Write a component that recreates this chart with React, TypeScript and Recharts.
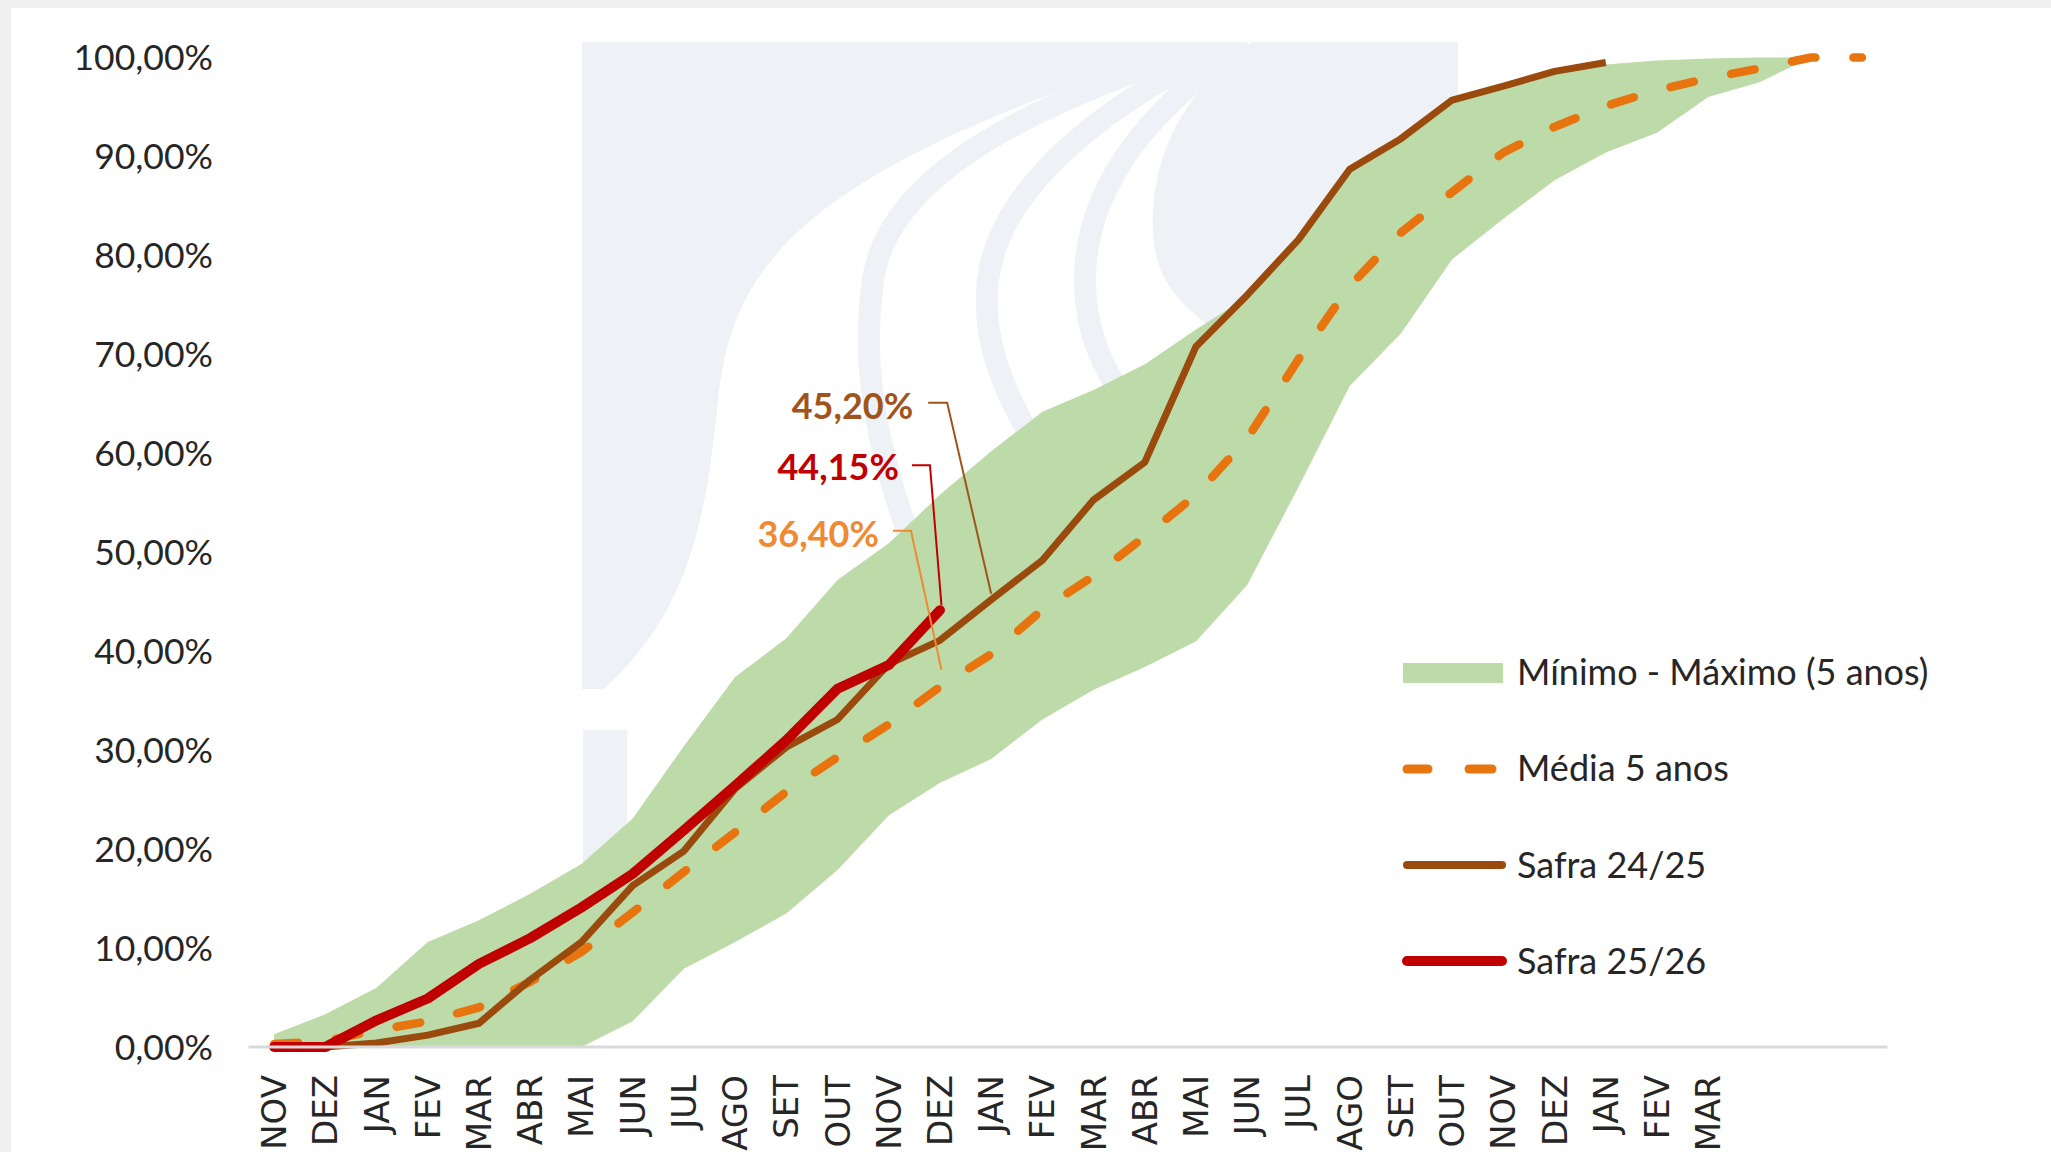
import { ComposedChart, Area, Line, XAxis, YAxis, LabelList } from 'recharts'

// meses do ano-safra (as 3 últimas posições ficam sem rótulo)
const months = [
  'NOV', 'DEZ', 'JAN', 'FEV', 'MAR', 'ABR', 'MAI', 'JUN', 'JUL', 'AGO', 'SET', 'OUT',
  'NOV', 'DEZ', 'JAN', 'FEV', 'MAR', 'ABR', 'MAI', 'JUN', 'JUL', 'AGO', 'SET', 'OUT',
  'NOV', 'DEZ', 'JAN', 'FEV', 'MAR', '', '', '',
]

const minimo = [
  0, 0, 0, 0, 0, 0, 0, 2.6, 7.9, 10.6, 13.5, 17.9, 23.4, 26.7, 29.1, 33.1,
  36.1, 38.4, 41.0, 46.7, 56.6, 66.8, 72.1, 79.6, 83.7, 87.6, 90.4, 92.4, 96.0, 97.5, 100, null,
]
const maximo = [
  1.3, 3.3, 6.0, 10.6, 12.8, 15.5, 18.5, 23.1, 30.4, 37.4, 41.3, 47.2, 50.9, 55.8, 60.2, 64.2,
  66.4, 69.0, 72.5, 75.8, 81.5, 88.6, 91.7, 95.6, 97.0, 98.5, 99.3, 99.7, 99.9, 100, 100, null,
]
const media5 = [
  0.3, 0.6, 1.7, 2.6, 4.0, 6.6, 9.6, 13.6, 17.7, 21.7, 25.8, 29.3, 32.6, 36.4, 39.7, 44.2,
  47.6, 51.6, 55.8, 61.5, 69.5, 76.9, 82.3, 86.4, 90.4, 93.0, 95.1, 96.7, 97.9, 98.9, 100, 100,
]
const safra2425 = [
  0, 0, 0.4, 1.2, 2.4, 6.8, 10.6, 16.3, 19.8, 26.1, 30.3, 33.1, 38.7, 41.1, 45.2, 49.2,
  55.3, 59.1, 70.8, 76.0, 81.6, 88.7, 91.8, 95.7, 97.1, 98.6, 99.5, null, null, null, null, null,
]
const safra2526 = [
  0, 0, 2.7, 4.9, 8.4, 11.0, 14.1, 17.5, 21.9, 26.4, 31.0, 36.2, 38.6, 44.15, null, null,
  null, null, null, null, null, null, null, null, null, null, null, null, null, null, null, null,
]

const yTicks = [0, 10, 20, 30, 40, 50, 60, 70, 80, 90, 100]

const GREEN = '#bcdba8'
const BROWN = '#9a4a0c'
const RED = '#c00000'
const ORANGE = '#e8740f'
const INK = '#262626'
const WATERMARK = '#eef1f6'

const data = months.map((month, i) => ({
  i,
  month,
  range: minimo[i] == null ? null : [minimo[i], maximo[i]],
  media: media5[i],
  s2425: safra2425[i],
  s2526: safra2526[i],
}))

const pct = (v: number) => v.toFixed(2).replace('.', ',') + '%'

function YTick({ x, y, payload }: any) {
  return (
    <text x={x} y={y} dy="0.36em" textAnchor="end" fill={INK} fontFamily="Lato" fontSize={35.5}>
      {pct(payload.value)}
    </text>
  )
}

function XTick({ x, y, payload }: any) {
  const label = months[payload.value] ?? ''
  return (
    <text
      x={x}
      y={y}
      transform={`rotate(-90, ${x}, ${y})`}
      textAnchor="end"
      dominantBaseline="central"
      fill={INK}
      fontFamily="DejaVu Sans"
      fontSize={34}
    >
      {label}
    </text>
  )
}

// rótulo de dado com linha de chamada (estilo Excel)
function leader(target: number, color: string, tx: number, ty: number, bend: [number, number][]) {
  return (props: any) => {
    const { x, y, value } = props
    if (value !== target || x == null || y == null) return null
    const pts = bend.map(([dx, dy]) => `${x + dx},${y + dy}`).join(' ')
    return (
      <g>
        <polyline points={pts} fill="none" stroke={color} strokeWidth={2} />
        <text
          x={x + tx}
          y={y + ty}
          dy="0.36em"
          textAnchor="end"
          fill={color}
          fontFamily="Lato"
          fontWeight={700}
          fontSize={36}
        >
          {pct(value)}
        </text>
      </g>
    )
  }
}

function Watermark() {
  return (
    <svg width={2051} height={1152} style={{ position: 'absolute', left: 0, top: 0 }}>
      <defs>
        <clipPath id="wm-clip">
          <rect x={582} y={42} width={876} height={647} />
        </clipPath>
      </defs>
      <g clipPath="url(#wm-clip)">
        <path d="M582 42 H1458 V180 L942 660 V689 H582 Z" fill={WATERMARK} />
        <path
          d="M604 689 C690 610 706 520 718 400 C732 270 790 170 1205 42 L1252 42 C1172 100 1150 170 1153 235 C1156 280 1180 305 1215 330 L942 689 Z"
          fill="#ffffff"
        />
        <g fill="none" stroke={WATERMARK} strokeWidth={22}>
          <path d="M1217 42 C1080 90 880 160 872 290 C860 380 880 470 940 620" />
          <path d="M1235 42 C1120 95 1000 180 988 280 C980 350 1010 410 1070 500" />
          <path d="M1247 42 C1160 100 1085 180 1085 280 C1085 340 1110 390 1160 440" />
        </g>
      </g>
      <rect x={583} y={730} width={44} height={150} fill={WATERMARK} />
    </svg>
  )
}

function ChartLegend() {
  const tx = 1517
  const text = { fill: INK, fontFamily: 'Lato', fontSize: 36, dominantBaseline: 'central' as const }
  return (
    <svg width={2051} height={1152} style={{ position: 'absolute', left: 0, top: 0, pointerEvents: 'none' }}>
      <rect x={1403} y={663} width={100} height={20} fill={GREEN} />
      <text x={tx} y={671} {...text}>Mínimo - Máximo (5 anos)</text>
      <line x1={1407} y1={769} x2={1428} y2={769} stroke={ORANGE} strokeWidth={9} strokeLinecap="round" />
      <line x1={1469} y1={769} x2={1492} y2={769} stroke={ORANGE} strokeWidth={9} strokeLinecap="round" />
      <text x={tx} y={767} {...text}>Média 5 anos</text>
      <line x1={1407} y1={865} x2={1502} y2={865} stroke={BROWN} strokeWidth={8} strokeLinecap="round" />
      <text x={tx} y={864} {...text}>Safra 24/25</text>
      <line x1={1407} y1={961} x2={1502} y2={961} stroke={RED} strokeWidth={10} strokeLinecap="round" />
      <text x={tx} y={960} {...text}>Safra 25/26</text>
    </svg>
  )
}

export default function App() {
  return (
    <div style={{ position: 'fixed', left: 0, top: 0, width: 2051, height: 1152, background: '#f0f0f0', overflow: 'hidden' }}>
      <div style={{ position: 'absolute', left: 11, top: 8, right: 0, bottom: 0, background: '#ffffff' }} />
      <Watermark />
      <div style={{ position: 'absolute', left: 0, top: 0 }}>
        <ComposedChart
          width={2051}
          height={1152}
          data={data}
          margin={{ top: 57.5, right: 163.5, bottom: 5, left: 48.5 }}
        >
          <XAxis
            dataKey="i"
            type="category"
            interval={0}
            height={100}
            padding={{ left: 25.6, right: 25.6 }}
            axisLine={{ stroke: '#d9d9d9', strokeWidth: 3 }}
            tickLine={false}
            tickSize={0}
            tickMargin={28}
            tick={<XTick />}
          />
          <YAxis
            type="number"
            domain={[0, 100]}
            ticks={yTicks}
            width={200}
            axisLine={false}
            tickLine={false}
            tickSize={0}
            tickMargin={35.5}
            tick={<YTick />}
          />
          <Area
            dataKey="range"
            fill={GREEN}
            fillOpacity={1}
            stroke="none"
            isAnimationActive={false}
            activeDot={false}
          />
          <Line
            dataKey="media"
            stroke={ORANGE}
            strokeWidth={8.5}
            strokeDasharray="24 38"
            strokeLinecap="round"
            dot={false}
            activeDot={false}
            isAnimationActive={false}
          >
            <LabelList
              content={leader(media5[13], '#ee8a33', -61, -153, [[-47, -156], [-29, -156], [1.5, -17]])}
            />
          </Line>
          <Line
            dataKey="s2425"
            stroke={BROWN}
            strokeWidth={7}
            strokeLinejoin="round"
            dot={false}
            activeDot={false}
            isAnimationActive={false}
          >
            <LabelList
              content={leader(safra2425[14] as number, '#a0541c', -78, -194, [[-63, -197], [-44, -197], [0, -6]])}
            />
          </Line>
          <Line
            dataKey="s2526"
            stroke={RED}
            strokeWidth={10}
            strokeLinejoin="round"
            strokeLinecap="round"
            dot={false}
            activeDot={false}
            isAnimationActive={false}
          >
            <LabelList
              content={leader(safra2526[13] as number, RED, -41, -143, [[-28, -145], [-10, -145], [1.5, -5]])}
            />
          </Line>
        </ComposedChart>
      </div>
      <ChartLegend />
    </div>
  )
}
